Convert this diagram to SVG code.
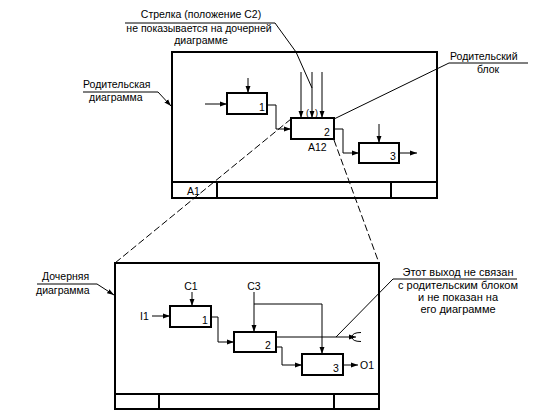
<svg xmlns="http://www.w3.org/2000/svg" width="533" height="418" viewBox="0 0 533 418">
<style>
text{font-family:"Liberation Sans",Arial,sans-serif;font-size:10.5px;fill:#000}
.m{text-anchor:middle}
.b{font-size:11px}
.frame{fill:none;stroke:#000;stroke-width:2}
.box{fill:#fff;stroke:#000;stroke-width:2}
.ln{fill:none;stroke:#000;stroke-width:1}
.ar{fill:none;stroke:#000;stroke-width:1;marker-end:url(#ah)}
.dash{fill:none;stroke:#000;stroke-width:1;stroke-dasharray:7,3}
</style>
<defs>
<marker id="ah" viewBox="0 0 10 10" refX="10" refY="5" markerWidth="7" markerHeight="7" markerUnits="userSpaceOnUse" orient="auto">
<path d="M0,1.5 L10,5 L0,8.5 Z" fill="#000"/>
</marker>
</defs>
<rect width="533" height="418" fill="#fff"/>

<g id="parent-frame">
<rect class="frame" x="172" y="52" width="265" height="146"/>
<line class="frame" x1="172" y1="182" x2="437" y2="182"/>
<line class="frame" x1="217" y1="182" x2="217" y2="198"/>
<line class="frame" x1="391" y1="182" x2="391" y2="198"/>
<text x="187" y="195">A1</text>
</g>

<g id="child-frame">
<rect class="frame" x="115" y="263" width="264" height="146"/>
<line class="frame" x1="115" y1="394" x2="379" y2="394"/>
<line class="frame" x1="159" y1="394" x2="159" y2="409"/>
<line class="frame" x1="334" y1="394" x2="334" y2="409"/>
</g>

<g id="connectors">
<path class="ar" d="M205,104 H227"/>
<path class="ar" d="M248,78 V93"/>
<path class="ar" d="M267,105 H276 V129 H291"/>
<path class="ar" d="M301,72 V118"/>
<path class="ar" d="M312,72 V118"/>
<path class="ar" d="M322,72 V118"/>
<path class="ar" d="M334,129 H343 V153 H359"/>
<path class="ar" d="M379,124 V143"/>
<path class="ar" d="M399,153 H417"/>
<text x="306" y="116" style="font-size:9px">(</text>
<text x="315" y="116" style="font-size:9px">)</text>
<path class="dash" d="M291,119 L115,263"/>
<path class="dash" d="M334,140 L379,263"/>
<path class="ar" d="M152,316 H170"/>
<path class="ar" d="M192,292 V306"/>
<path class="ar" d="M211,317 H218 V342 H234"/>
<path class="ar" d="M254,292 V332"/>
<path class="ar" d="M254,304 H322 V354"/>
<path class="ar" d="M276,347 H282 V365 H302"/>
<path class="ar" d="M343,365 H358"/>
<path class="ar" d="M276,337 H356"/>
<path class="ln" d="M361,332.5 Q352,332.5 352,337 Q352,341.5 361,341.5"/>
<path class="ln" d="M125,23 H275 L296,52 L312,88"/>
<path class="ar" d="M83,92 H158 L171,106"/>
<path class="ln" d="M528,63 H449 L334,119"/>
<path class="ar" d="M37,284 H97 L114,295"/>
<path class="ln" d="M517,279 H393 L336,337"/>
</g>

<g id="p1"><rect class="box" x="227" y="93" width="40" height="21"/><text x="259" y="111">1</text></g>
<g id="p2"><rect class="box" x="291" y="118" width="43" height="21"/><text x="324" y="136">2</text><text x="308" y="151">A12</text></g>
<g id="p3"><rect class="box" x="359" y="143" width="40" height="20"/><text x="390" y="160">3</text></g>

<g id="c1"><rect class="box" x="170" y="306" width="41" height="21"/><text x="202" y="324">1</text></g>
<g id="c2"><rect class="box" x="234" y="332" width="42" height="20"/><text x="265" y="349">2</text></g>
<g id="c3"><rect class="box" x="302" y="354" width="41" height="21"/><text x="333" y="372">3</text></g>

<g id="labels">
<text class="m" x="201" y="18">Стрелка (положение С2)</text>
<text class="m" x="199" y="32">не показывается на дочерней</text>
<text class="m" x="201" y="44">диаграмме</text>
<text x="83" y="88">Родительская</text>
<text x="89" y="101">диаграмма</text>
<text x="450" y="60">Родительский</text>
<text class="m" x="488" y="73">блок</text>
<text x="42" y="280">Дочерняя</text>
<text x="36" y="294">диаграмма</text>
<text class="m b" x="458" y="276">Этот выход не связан</text>
<text class="m b" x="458" y="289">с родительским блоком</text>
<text class="m b" x="458" y="301">и не показан на</text>
<text class="m b" x="458" y="313">его диаграмме</text>
<text class="m" x="191" y="290">C1</text>
<text class="m" x="254" y="290">C3</text>
<text x="140" y="320">I1</text>
<text x="360" y="369">O1</text>
</g>
</svg>
